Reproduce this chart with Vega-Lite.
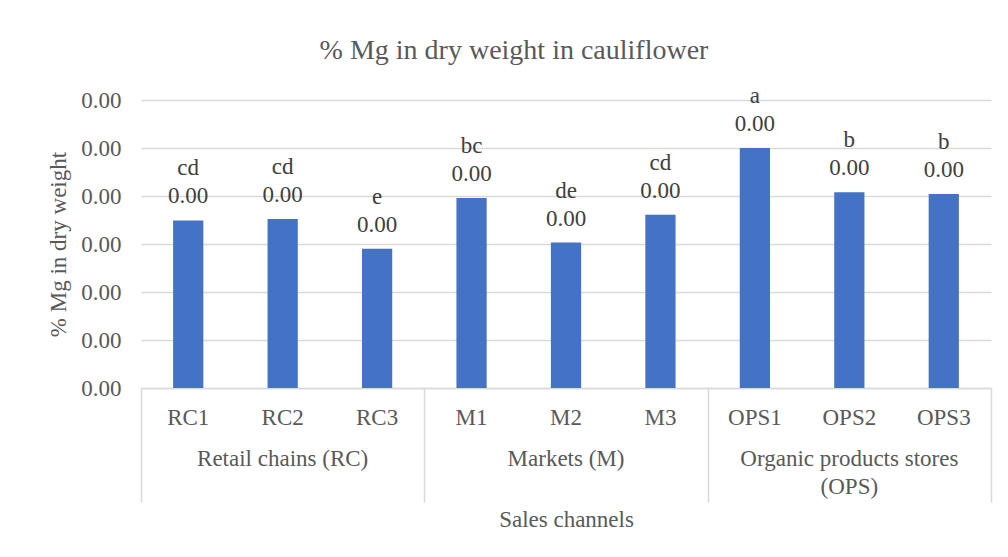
{
  "$schema": "https://vega.github.io/schema/vega-lite/v6.json",
  "width": 850,
  "height": 288,
  "autosize": {"type": "none"},
  "padding": {"left": 141, "top": 100, "right": 17, "bottom": 169},
  "background": "white",
  "title": {
    "text": "% Mg in dry weight in cauliflower",
    "font": "Liberation Serif",
    "fontSize": 28,
    "fontWeight": "normal",
    "color": "#595959",
    "anchor": "middle",
    "frame": "group",
    "baseline": "alphabetic",
    "dx": -52,
    "offset": -2
  },
  "config": {
    "view": {"stroke": null},
    "font": "Liberation Serif",
    "text": {"font": "Liberation Serif"},
    "axis": {
      "labelFont": "Liberation Serif",
      "titleFont": "Liberation Serif",
      "labelFontSize": 23,
      "titleFontSize": 23,
      "labelColor": "#595959",
      "titleColor": "#595959",
      "titleFontWeight": "normal",
      "labelLimit": 0
    }
  },
  "data": {
    "values": [
      {"sample": "RC1", "group": "Retail chains (RC)", "value": 0.001745, "letter": "cd"},
      {"sample": "RC2", "group": "Retail chains (RC)", "value": 0.00176, "letter": "cd"},
      {"sample": "RC3", "group": "Retail chains (RC)", "value": 0.00145, "letter": "e"},
      {"sample": "M1", "group": "Markets (M)", "value": 0.00198, "letter": "bc"},
      {"sample": "M2", "group": "Markets (M)", "value": 0.001515, "letter": "de"},
      {"sample": "M3", "group": "Markets (M)", "value": 0.001805, "letter": "cd"},
      {"sample": "OPS1", "group": "Organic products stores (OPS)", "value": 0.0025, "letter": "a"},
      {"sample": "OPS2", "group": "Organic products stores (OPS)", "value": 0.00204, "letter": "b"},
      {"sample": "OPS3", "group": "Organic products stores (OPS)", "value": 0.00202, "letter": "b"}
    ]
  },
  "encoding": {
    "y": {
      "field": "value",
      "type": "quantitative",
      "scale": {"domain": [0, 0.003]},
      "axis": {
        "values": [0, 0.0005, 0.001, 0.0015, 0.002, 0.0025, 0.003],
        "format": ".2f",
        "title": "% Mg in dry weight",
        "domain": false,
        "ticks": false,
        "tickSize": 0,
        "labelPadding": 20,
        "grid": true,
        "gridColor": "#d9d9d9",
        "gridWidth": 1.5,
        "titlePadding": 10
      }
    }
  },
  "layer": [
    {
      "mark": {"type": "bar", "color": "#4472C4", "width": {"band": 0.32}},
      "encoding": {
        "x": {
          "field": "sample",
          "type": "nominal",
          "sort": ["RC1", "RC2", "RC3", "M1", "M2", "M3", "OPS1", "OPS2", "OPS3"],
          "scale": {"paddingInner": 0, "paddingOuter": 0},
          "axis": {
            "orient": "bottom",
            "title": null,
            "labelAngle": 0,
            "domain": true,
            "domainColor": "#d9d9d9",
            "domainWidth": 1.5,
            "ticks": false,
            "tickSize": 0,
            "labelPadding": 18,
            "grid": false
          }
        }
      }
    },
    {
      "mark": {"type": "text", "fontSize": 23, "color": "#404040", "baseline": "alphabetic", "dy": -17},
      "encoding": {
        "x": {
          "field": "sample",
          "type": "nominal",
          "sort": ["RC1", "RC2", "RC3", "M1", "M2", "M3", "OPS1", "OPS2", "OPS3"],
          "axis": {
            "orient": "bottom",
            "title": null,
            "values": ["RC2", "M2", "OPS2"],
            "labelExpr": "datum.value == 'RC2' ? 'Retail chains (RC)' : datum.value == 'M2' ? 'Markets (M)' : ['Organic products stores', '(OPS)']",
            "labelAngle": 0,
            "domain": false,
            "ticks": false,
            "tickSize": 0,
            "labelPadding": 59,
            "labelLineHeight": 28,
            "grid": false
          }
        },
        "text": {"field": "value", "type": "quantitative", "format": ".2f"}
      }
    },
    {
      "mark": {"type": "text", "fontSize": 23, "color": "#404040", "baseline": "alphabetic", "dy": -45},
      "encoding": {
        "x": {
          "field": "sample",
          "type": "nominal",
          "sort": ["RC1", "RC2", "RC3", "M1", "M2", "M3", "OPS1", "OPS2", "OPS3"],
          "axis": {
            "orient": "bottom",
            "title": "Sales channels",
            "values": ["RC1", "RC3", "M3", "OPS3"],
            "tickBand": "extent",
            "labels": false,
            "domain": false,
            "ticks": true,
            "tickSize": 114,
            "tickColor": "#d9d9d9",
            "tickWidth": 1.5,
            "tickOpacity": {"condition": {"test": "datum.value === 'RC1'", "value": 0}, "value": 1},
            "titlePadding": 6,
            "grid": false
          }
        },
        "text": {"field": "letter", "type": "nominal"}
      }
    }
  ],
  "resolve": {"axis": {"x": "independent"}}
}
